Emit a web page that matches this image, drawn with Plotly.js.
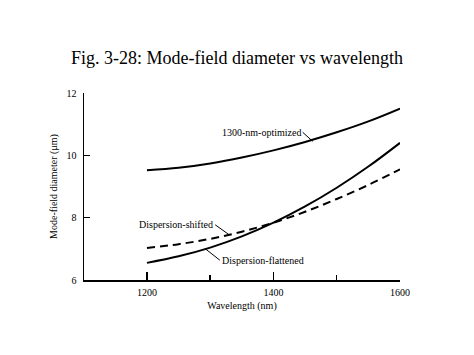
<!DOCTYPE html>
<html>
<head>
<meta charset="utf-8">
<script src="https://cdn.plot.ly/plotly-3.0.1.min.js"></script>
<style>html,body{margin:0;padding:0;background:#fff;}#chart{width:474px;height:355px;}</style>
</head>
<body>
<div id="chart"></div>
<script>
const wavelength = [1200, 1250, 1300, 1350, 1400, 1450, 1500, 1550, 1600];
const optimized1300 = [9.52, 9.60, 9.74, 9.93, 10.16, 10.43, 10.74, 11.09, 11.50];
const dispShifted = [7.03, 7.15, 7.32, 7.55, 7.84, 8.19, 8.60, 9.05, 9.55];
const dispFlattened = [6.55, 6.76, 7.04, 7.40, 7.84, 8.36, 8.96, 9.64, 10.40];
const xTickVals = [1200, 1400, 1600];
const yTickVals = [6, 8, 10, 12];

const serif = "Liberation Serif, Times New Roman, serif";
const traces = [
  {x: wavelength, y: optimized1300, mode: 'lines', line: {color: '#000', width: 2, shape: 'spline', smoothing: 1}, name: '1300-nm-optimized'},
  {x: wavelength, y: dispShifted, mode: 'lines', line: {color: '#000', width: 2, dash: '8px,5px', shape: 'spline', smoothing: 1}, name: 'Dispersion-shifted'},
  {x: wavelength, y: dispFlattened, mode: 'lines', line: {color: '#000', width: 2, shape: 'spline', smoothing: 1}, name: 'Dispersion-flattened'}
];

const layout = {
  width: 474, height: 355,
  margin: {l: 84, r: 74, t: 93, b: 75},
  paper_bgcolor: '#fff', plot_bgcolor: '#fff',
  showlegend: false,
  font: {family: serif, color: '#000', size: 10},
  title: {text: 'Fig. 3-28: Mode-field diameter vs wavelength', font: {family: serif, size: 18, color: '#000'}, x: 0.5, xanchor: 'center', y: 0.838, yanchor: 'middle'},
  xaxis: {
    range: [1100.5, 1600], tickvals: xTickVals, ticks: 'inside', ticklen: 8, tickwidth: 1.5, tickcolor: '#000',
    minor: {dtick: 100, tick0: 1100, ticks: 'inside', ticklen: 5, tickwidth: 1.5, tickcolor: '#000'},
    showline: true, linecolor: '#000', linewidth: 1.5, showgrid: false, zeroline: false,
    tickfont: {family: serif, size: 10}, ticklabelstandoff: 2,
    title: {text: 'Wavelength (nm)', font: {family: serif, size: 10}, standoff: 5}
  },
  yaxis: {
    range: [6, 12], tickvals: yTickVals, ticks: 'inside', ticklen: 6, tickwidth: 1.5, tickcolor: '#000',
    showline: true, linecolor: '#000', linewidth: 1.5, showgrid: false, zeroline: false,
    tickfont: {family: serif, size: 10}, ticklabelstandoff: 4,
    title: {text: 'Mode-field diameter (μm)', font: {family: serif, size: 10}, standoff: 7}
  },
  annotations: [
    {x: 1462, y: 10.45, text: '1300-nm-optimized', showarrow: true, arrowhead: 0, arrowwidth: 1, arrowcolor: '#000', ax: -10, ay: -9, xanchor: 'right', yanchor: 'middle', font: {family: serif, size: 10}},
    {x: 1330, y: 7.45, text: 'Dispersion-shifted', showarrow: true, arrowhead: 0, arrowwidth: 1, arrowcolor: '#000', ax: -14, ay: -10, xanchor: 'right', yanchor: 'middle', font: {family: serif, size: 10}},
    {x: 1293, y: 6.99, text: 'Dispersion-flattened', showarrow: true, arrowhead: 0, arrowwidth: 1, arrowcolor: '#000', ax: 14, ay: 11, xanchor: 'left', yanchor: 'middle', font: {family: serif, size: 10}}
  ]
};

Plotly.newPlot('chart', traces, layout, {displayModeBar: false, staticPlot: true});
</script>
</body>
</html>
